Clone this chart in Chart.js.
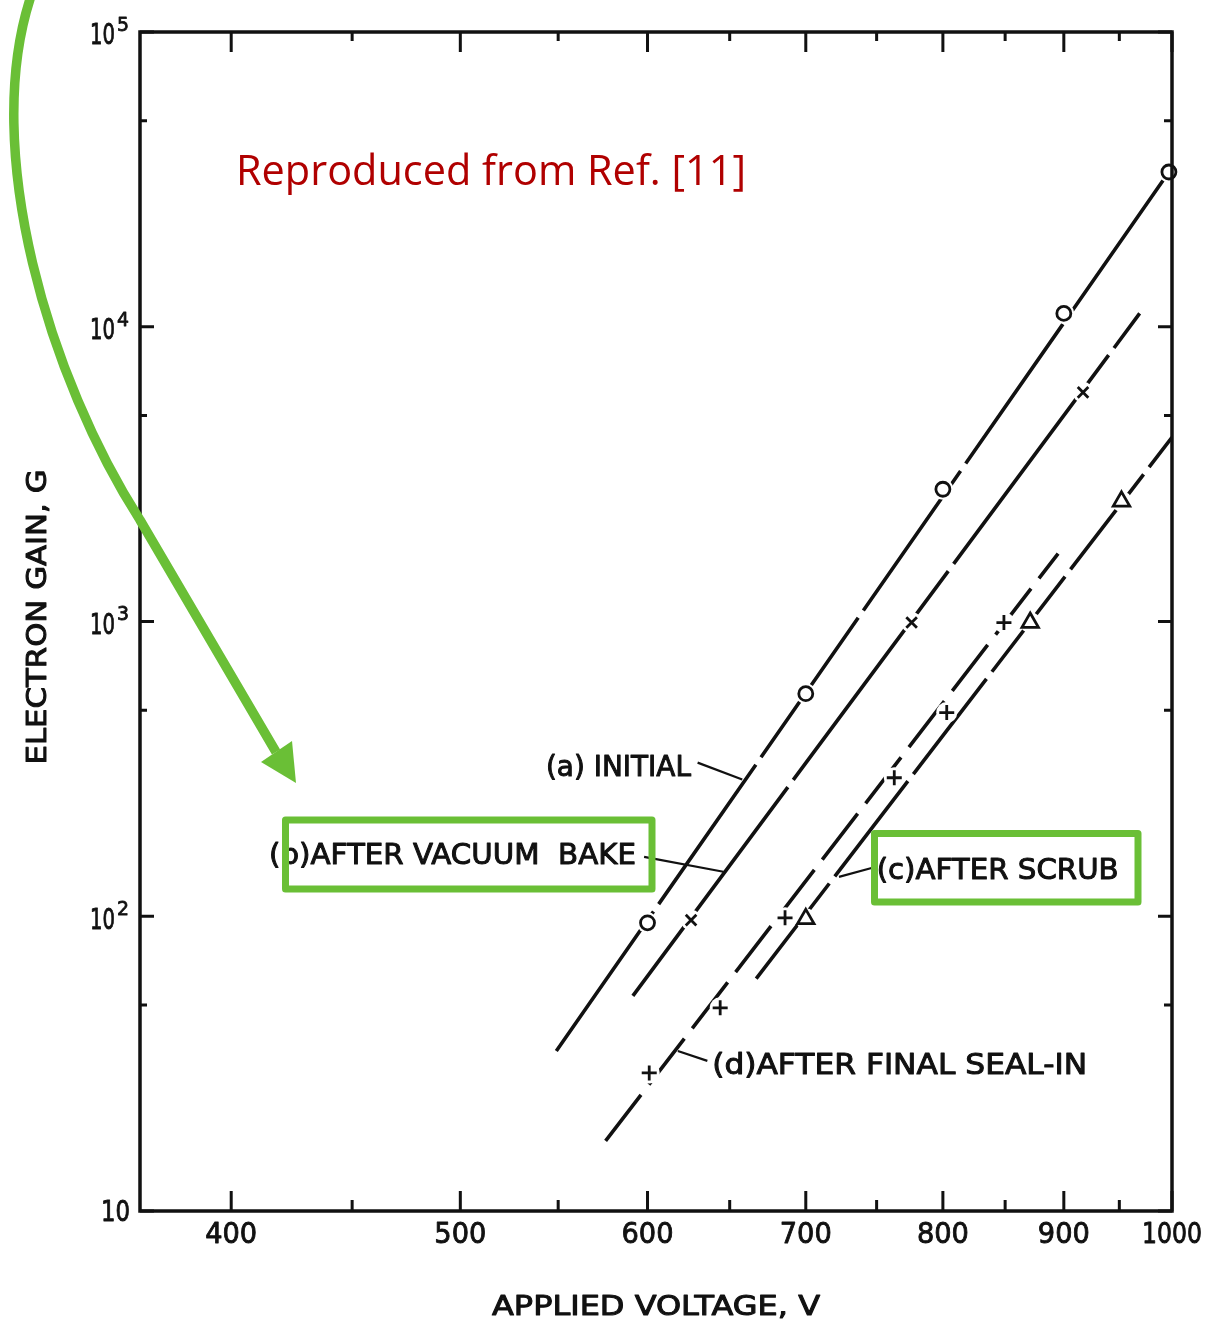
<!DOCTYPE html>
<html>
<head>
<meta charset="utf-8">
<script src="https://cdn.jsdelivr.net/npm/chart.js@4.4.1/dist/chart.umd.min.js"></script>
<style>
  html, body { margin: 0; padding: 0; background: #fff; }
  #wrap { width: 1209px; height: 1328px; position: relative; }
</style>
</head>
<body>
<div id="wrap"><canvas id="gainChart" width="1209" height="1328"></canvas></div>
<script>
// Electron gain G vs applied voltage, four processing stages (log-log)

const voltTicks = [400, 500, 600, 700, 800, 900, 1000];
const voltMinor = [450, 550, 650, 750, 850, 950];
const gainTicks = [10, 100, 1000, 10000, 100000];
const gainExp = ["", "2", "3", "4", "5"];
const gainMinor = [50, 500, 5000, 50000];

// measured points
const initialV = [600, 700, 800, 900, 997];
const initialG = [95, 569, 2810, 11100, 33500];
const bakeV = [626, 776, 917];
const bakeG = [97, 992, 5990];
const scrubV = [700, 871, 952];
const scrubG = [98, 992, 2555];
const sealV = [601, 644, 686, 763, 803, 849];
const sealG = [29.4, 48.9, 98.8, 295, 491, 992];

// straight fits, end points
const initialFitV = [549, 997];
const initialFitG = [34.9, 33500];
const bakeFitV = [591.5, 969];
const bakeFitG = [53.7, 11100];
const scrubFitV = [667, 1000];
const scrubFitG = [61.4, 4215];
const sealFitV = [576, 895];
const sealFitG = [17.3, 1700];

// curve captions and their leader lines (data coordinates)
const captions = ["(a) INITIAL", "(b)AFTER VACUUM  BAKE", "(c)AFTER SCRUB", "(d)AFTER FINAL SEAL-IN"];
const captionV = [543.5, 415, 750, 639];
const captionG = [324, 163, 145, 31.6];
const leaderFromV = [630, 598, 747, 636];
const leaderFromG = [332, 159, 146, 32.3];
const leaderToV = [658, 646, 723, 618];
const leaderToG = [291, 141.6, 136, 34.9];

const INK = "#111";
const GREEN = "#6abf36";
const FONT = '"DejaVu Sans"';

function pts(xs, ys) {
  return xs.map((x, i) => ({ x, y: ys[i] }));
}

function fitLine(xs, ys, dash) {
  return {
    type: "line", data: pts(xs, ys), order: 3,
    borderColor: INK, borderWidth: 3.6, borderDash: dash,
    pointRadius: 0, fill: false, tension: 0
  };
}

function halo(xs, ys) {
  return {
    type: "scatter", data: pts(xs, ys), order: 2, clip: false,
    pointStyle: "circle", pointRadius: 10.5, pointBorderWidth: 0,
    pointBackgroundColor: "#fff", borderColor: "#fff"
  };
}

function markers(xs, ys, style, r) {
  return {
    type: "scatter", data: pts(xs, ys), order: 1, clip: false,
    pointStyle: style, pointRadius: r, pointBorderWidth: 2.8,
    pointBorderColor: INK, pointBackgroundColor: "#fff"
  };
}

// draw text squeezed/stretched to a given width, y is the cap centre;
// a thin outline thickens the strokes like inked lettering
function fitText(ctx, text, x, y, w, size, align, family, heavy) {
  ctx.save();
  ctx.font = `${size}px ${family || FONT}`;
  const natural = ctx.measureText(text).width;
  ctx.translate(x, y + size * 0.36);
  ctx.scale(w / natural, 1);
  ctx.textAlign = align;
  ctx.textBaseline = "alphabetic";
  ctx.fillText(text, 0, 0);
  if (heavy) {
    ctx.lineWidth = heavy;
    ctx.strokeStyle = ctx.fillStyle;
    ctx.lineJoin = "round";
    ctx.strokeText(text, 0, 0);
  }
  ctx.restore();
}

const axesPlugin = {
  id: "axesFrame",
  afterDatasetsDraw(chart) {
    const { ctx, chartArea: a, scales: { x, y } } = chart;
    ctx.save();
    ctx.strokeStyle = INK;
    ctx.fillStyle = INK;
    ctx.lineWidth = 3.5;
    ctx.strokeRect(a.left, a.top, a.right - a.left, a.bottom - a.top);

    ctx.lineWidth = 3;
    ctx.beginPath();
    voltTicks.forEach(v => {
      const px = x.getPixelForValue(v);
      ctx.moveTo(px, a.bottom); ctx.lineTo(px, a.bottom - 20);
      ctx.moveTo(px, a.top); ctx.lineTo(px, a.top + 20);
    });
    voltMinor.forEach(v => {
      const px = x.getPixelForValue(v);
      ctx.moveTo(px, a.bottom); ctx.lineTo(px, a.bottom - 11);
      ctx.moveTo(px, a.top); ctx.lineTo(px, a.top + 9);
    });
    gainTicks.forEach(g => {
      const py = y.getPixelForValue(g);
      ctx.moveTo(a.left, py); ctx.lineTo(a.left + 14, py);
      ctx.moveTo(a.right, py); ctx.lineTo(a.right - 14, py);
    });
    gainMinor.forEach(g => {
      const py = y.getPixelForValue(g);
      ctx.moveTo(a.left, py); ctx.lineTo(a.left + 7, py);
      ctx.moveTo(a.right, py); ctx.lineTo(a.right - 8, py);
    });
    ctx.stroke();

    // tick labels
    voltTicks.forEach(v => {
      const px = x.getPixelForValue(v);
      const w = v >= 1000 ? 60 : 52;
      fitText(ctx, String(v), px, a.bottom + 22, w, 29, "center", null, 0.9);
    });
    gainTicks.forEach((g, i) => {
      const py = y.getPixelForValue(g);
      if (gainExp[i]) {
        fitText(ctx, "10", 115, py + 2, 25, 29, "right", null, 0.9);
        fitText(ctx, gainExp[i], 117, py - 8, 12, 19, "left", null, 0.8);
      } else {
        fitText(ctx, "10", 130, py, 29, 29, "right", null, 0.9);
      }
    });

    // axis titles
    fitText(ctx, "APPLIED VOLTAGE, V", (a.left + a.right) / 2, a.bottom + 94, 328, 27, "center", null, 1);
    ctx.save();
    ctx.translate(36, 617);
    ctx.rotate(-Math.PI / 2);
    fitText(ctx, "ELECTRON GAIN, G", 0, 0, 295, 27, "center", null, 1);
    ctx.restore();

    // captions and leaders
    const widths = [145, 367, 242, 375];
    ctx.lineWidth = 2.2;
    captions.forEach((t, i) => {
      fitText(ctx, t, x.getPixelForValue(captionV[i]), y.getPixelForValue(captionG[i]), widths[i], 29, "left", null, 1);
      ctx.beginPath();
      ctx.moveTo(x.getPixelForValue(leaderFromV[i]), y.getPixelForValue(leaderFromG[i]));
      ctx.lineTo(x.getPixelForValue(leaderToV[i]), y.getPixelForValue(leaderToG[i]));
      ctx.stroke();
    });
    ctx.restore();
  },
  afterDraw(chart) {
    const { ctx } = chart;
    ctx.save();
    // source note
    ctx.fillStyle = "#b00000";
    fitText(ctx, "Reproduced from Ref. [11]", 236, 170, 510, 42, "left", '"Open Sans"');

    // highlight boxes
    ctx.strokeStyle = GREEN;
    ctx.lineWidth = 7;
    ctx.lineJoin = "round";
    ctx.strokeRect(285.5, 820, 366.5, 69);
    ctx.strokeRect(874.5, 833.5, 263.5, 68.5);

    // curved pointer
    ctx.lineWidth = 9.5;
    ctx.lineCap = "butt";
    ctx.beginPath();
    ctx.moveTo(31, -4);
    ctx.bezierCurveTo(-20, 150, 50, 380, 140, 520);
    ctx.lineTo(276, 752);
    ctx.stroke();
    ctx.fillStyle = GREEN;
    ctx.beginPath();
    ctx.moveTo(296, 783);
    ctx.lineTo(261, 762);
    ctx.lineTo(292, 741);
    ctx.closePath();
    ctx.fill();
    ctx.restore();
  }
};

new Chart(document.getElementById("gainChart"), {
  type: "scatter",
  data: {
    datasets: [
      fitLine(initialFitV, initialFitG, [170, 9]),
      fitLine(bakeFitV, bakeFitG, [260, 9]),
      fitLine(scrubFitV, scrubFitG, [120, 9]),
      fitLine(sealFitV, sealFitG, [58, 13]),
      halo(initialV, initialG),
      halo(bakeV, bakeG),
      halo(scrubV, scrubG),
      halo(sealV, sealG),
      markers(initialV, initialG, "circle", 7),
      markers(bakeV, bakeG, "crossRot", 7.5),
      markers(scrubV, scrubG, "triangle", 9.5),
      markers(sealV, sealG, "cross", 7.5)
    ]
  },
  options: {
    responsive: false,
    animation: false,
    layout: { padding: { left: 140, right: 37, top: 32, bottom: 117 } },
    scales: {
      x: { type: "logarithmic", min: 366, max: 1000, display: false },
      y: { type: "logarithmic", min: 10, max: 100000, display: false }
    },
    plugins: { legend: { display: false }, tooltip: { enabled: false } }
  },
  plugins: [axesPlugin]
});
</script>
</body>
</html>
